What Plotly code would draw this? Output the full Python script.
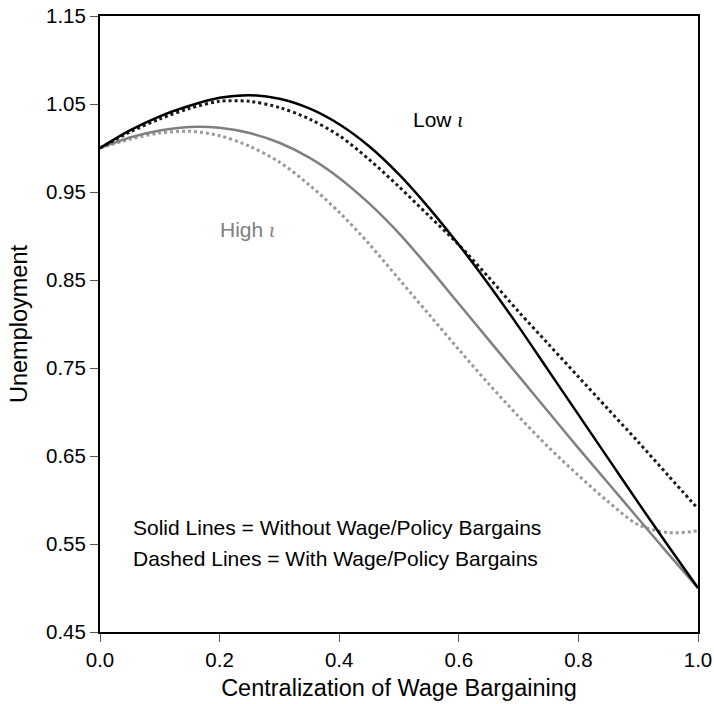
import plotly.graph_objects as go

centralization = [0.00, 0.05, 0.10, 0.15, 0.20, 0.25, 0.30, 0.35, 0.40, 0.45, 0.50,
                  0.55, 0.60, 0.65, 0.70, 0.75, 0.80, 0.85, 0.90, 0.95, 1.00]

low_without = [1.000, 1.020, 1.036, 1.048, 1.057, 1.060, 1.056, 1.045, 1.027, 1.002, 0.970,
               0.932, 0.890, 0.845, 0.797, 0.747, 0.697, 0.647, 0.597, 0.548, 0.500]
low_with = [1.000, 1.018, 1.033, 1.045, 1.053, 1.053, 1.046, 1.033, 1.014, 0.987, 0.956,
            0.923, 0.890, 0.853, 0.814, 0.777, 0.740, 0.703, 0.666, 0.628, 0.590]
high_without = [1.000, 1.012, 1.020, 1.024, 1.023, 1.017, 1.006, 0.989, 0.966, 0.937, 0.903,
                0.864, 0.823, 0.782, 0.741, 0.700, 0.659, 0.619, 0.579, 0.539, 0.500]
high_with = [1.000, 1.010, 1.017, 1.019, 1.014, 1.002, 0.984, 0.958, 0.927, 0.891, 0.851,
             0.811, 0.771, 0.732, 0.695, 0.660, 0.628, 0.598, 0.572, 0.563, 0.565]

x_ticks = [0.0, 0.2, 0.4, 0.6, 0.8, 1.0]
y_ticks = [0.45, 0.55, 0.65, 0.75, 0.85, 0.95, 1.05, 1.15]

FONT = "Arial, 'Liberation Sans', sans-serif"

fig = go.Figure()
fig.add_trace(go.Scatter(x=centralization, y=high_with, mode="lines", line_shape="spline",
                         line=dict(color="#9a9a9a", width=3, dash="3px,3px", smoothing=0.9)))
fig.add_trace(go.Scatter(x=centralization, y=high_without, mode="lines", line_shape="spline",
                         line=dict(color="#808080", width=2.5, smoothing=0.9)))
fig.add_trace(go.Scatter(x=centralization, y=low_with, mode="lines", line_shape="spline",
                         line=dict(color="#1a1a1a", width=3, dash="3px,3px", smoothing=0.9)))
fig.add_trace(go.Scatter(x=centralization, y=low_without, mode="lines", line_shape="spline",
                         line=dict(color="#000000", width=2.5, smoothing=0.9)))

iota = "<span style='font-family:Liberation Serif'><i>ι</i></span>"
fig.add_annotation(x=0.52, y=1.032, xref="x", yref="y", xanchor="left", yanchor="middle",
                   text="Low " + iota,
                   showarrow=False, font=dict(family=FONT, size=21, color="#000000"))
fig.add_annotation(x=0.198, y=0.907, xref="x", yref="y", xanchor="left", yanchor="middle",
                   text="High " + iota,
                   showarrow=False, font=dict(family=FONT, size=21, color="#808080"))
fig.add_annotation(x=0.052, y=0.569, xref="x", yref="y", xanchor="left", yanchor="middle",
                   text="Solid Lines = Without Wage/Policy Bargains",
                   showarrow=False, font=dict(family=FONT, size=21, color="#000000"))
fig.add_annotation(x=0.052, y=0.533, xref="x", yref="y", xanchor="left", yanchor="middle",
                   text="Dashed Lines = With Wage/Policy Bargains",
                   showarrow=False, font=dict(family=FONT, size=21, color="#000000"))

fig.update_layout(
    width=714, height=704,
    margin=dict(l=100, r=16, t=16, b=72),
    paper_bgcolor="white", plot_bgcolor="white",
    showlegend=False,
    font=dict(family=FONT, color="#000000"),
)
fig.update_xaxes(range=[0, 1], tickvals=x_ticks, ticktext=[f"{v:.1f}" for v in x_ticks],
                 ticks="outside", ticklen=8, tickcolor="#555555", tickwidth=1,
                 showline=True, linecolor="#000000", linewidth=2, mirror=True,
                 showgrid=False, zeroline=False, automargin=False,
                 tickfont=dict(family=FONT, size=20.5, color="#000000"),
                 title=dict(text="Centralization of Wage Bargaining", standoff=10,
                            font=dict(family=FONT, size=23.5, color="#000000")))
fig.update_yaxes(range=[0.45, 1.15], tickvals=y_ticks, ticktext=[f"{v:.2f}" for v in y_ticks],
                 ticks="outside", ticklen=8, tickcolor="#555555", tickwidth=1,
                 showline=True, linecolor="#000000", linewidth=2, mirror=True,
                 showgrid=False, zeroline=False, automargin=False,
                 tickfont=dict(family=FONT, size=20.5, color="#000000"),
                 title=dict(text="Unemployment", standoff=12,
                            font=dict(family=FONT, size=23.5, color="#000000")))

fig.write_html("out.html")
